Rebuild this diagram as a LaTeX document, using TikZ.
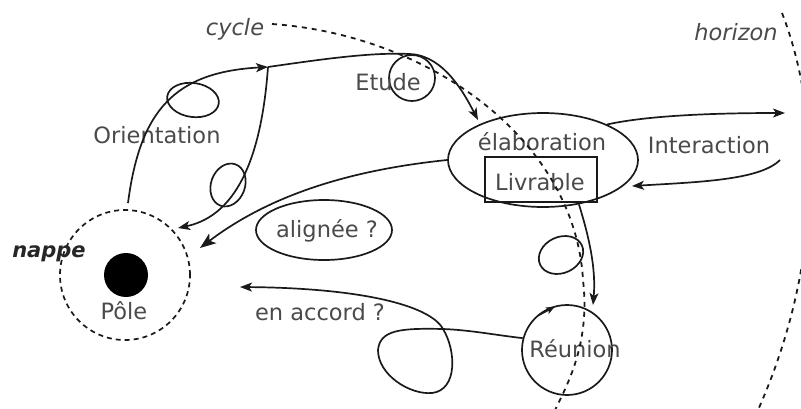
\documentclass[tikz,border=0pt]{standalone}
\usepackage{fontspec}
\setmainfont{DejaVu Sans}
\usetikzlibrary{shapes.geometric,arrows.meta,calc}
\definecolor{txtgray}{HTML}{4A4A4A}
\definecolor{linec}{HTML}{1A1A1A}
\begin{document}
\begin{tikzpicture}[x=1pt,y=-1pt,
  txt/.style={text=txtgray, font=\fontsize{22.5}{26}\selectfont, inner sep=0pt, anchor=base},
  ln/.style={line width=1.7pt, draw=linec},
  shp/.style={ln, inner sep=0pt},
  tip/.style={-{Stealth[length=12pt,width=9pt,inset=3pt]}},
  bigtip/.style={-{Stealth[length=16pt,width=12pt,inset=4pt]}},
  dsh/.style={line width=1.8pt, draw=linec, dash pattern=on 5pt off 5pt},
]
\useasboundingbox (0,0) rectangle (801,408);

% shapes
\node[shp, circle, dash pattern=on 5pt off 4pt, minimum size=130pt] (nappe) at (125,275) {};
\node[circle, fill=black, minimum size=44pt, inner sep=0pt] (pole) at (126,275) {};
\node[shp, ellipse, minimum width=190pt, minimum height=94pt] (elab) at (543,160) {};
\node[shp, rectangle, minimum width=112pt, minimum height=45pt] (livr) at (541,179.5) {};
\node[shp, circle, minimum size=46pt] (etude) at (412,78) {};
\node[shp, circle, minimum size=90pt] (reunion) at (567,350) {};
\node[shp, ellipse, minimum width=136pt, minimum height=60pt] (align) at (324,230) {};
\node[shp, ellipse, minimum width=52pt, minimum height=34pt, rotate=-8] (loopa) at (193,100) {};
\node[shp, ellipse, minimum width=34pt, minimum height=44pt, rotate=-20] (loopb) at (228,185) {};
\node[shp, ellipse, minimum width=46pt, minimum height=36pt, rotate=25] (loopc) at (561,255) {};

% texts
\node[txt, font=\fontsize{22.5}{26}\selectfont\itshape] (cyclelbl) at (235,35) {cycle};
\node[txt, font=\fontsize{22.5}{26}\selectfont\itshape] (horizlbl) at (736,40) {horizon};
\node[txt, text=black!85, font=\fontsize{21}{26}\selectfont\bfseries\itshape] (nappelbl) at (49,257) {nappe};
\node[txt] (polelbl) at (124,319) {Pôle};
\node[txt] (orientlbl) at (157,143) {Orientation};
\node[txt] (etudelbl) at (388,90) {Etude};
\node[txt] (elablbl) at (542,150) {élaboration};
\node[txt] (livrlbl) at (540,190) {Livrable};
\node[txt] (interlbl) at (709,153) {Interaction};
\node[txt] (alignlbl) at (327,237) {alignée ?};
\node[txt] (accordlbl) at (320,320) {en accord ?};
\node[txt] (reunionlbl) at (575,357) {Réunion};

% coordinates for free ends
\coordinate (oStart) at (128,203);
\coordinate (j) at (268,67);
\coordinate (elabIn) at (478,120);
\coordinate (poleInA) at (178,228);
\coordinate (poleInB) at (200,248);
\coordinate (poleInC) at (240,287);
\coordinate (intOut) at (785,113);
\coordinate (intBack) at (780,160);
\coordinate (elabBack) at (632,186);
\coordinate (reuIn) at (593,305);
\coordinate (cross) at (443,329);

% connectors
\draw[ln, tip] (oStart) .. controls (140,110) and (175,72) .. (j);
\draw[ln, tip] (j) .. controls (330,58) and (375,52) .. (etude.north)
   .. controls (445,57) and (465,95) .. (elabIn);
\draw[ln, tip] (j) .. controls (262,150) and (240,215) .. (poleInA);
\draw[ln, bigtip] (elab.west) .. controls (350,170) and (270,195) .. (poleInB);
\draw[ln, tip] (elab.29) .. controls (650,115) and (720,113) .. (intOut);
\draw[ln, tip] (intBack) .. controls (760,180) and (700,182) .. (elabBack);
\draw[ln, tip] (elab.-51) .. controls (590,240) and (596,270) .. (reuIn);
\draw[ln, tip] (reunion.165) .. controls (495,335) and (470,330) .. (cross)
   .. controls (400,328) and (380,330) .. (378,350)
   .. controls (378,375) and (410,395) .. (432,393)
   .. controls (458,390) and (456,350) .. (cross)
   .. controls (430,305) and (360,288) .. (poleInC);
\draw[ln, -{Stealth[length=9pt,width=7pt,inset=2pt]}] ($(reunion.center)+(-28,-35)$) -- ($(reunion.center)+(-12,-43.5)$);

% dashed curves
\draw[dsh] (272,24) .. controls (430,35) and (575,140) .. (583,280)
   .. controls (590,340) and (570,380) .. (555,410);
\draw[dsh] (782,13) .. controls (820,110) and (825,260) .. (758,410);
\end{tikzpicture}
\end{document}
